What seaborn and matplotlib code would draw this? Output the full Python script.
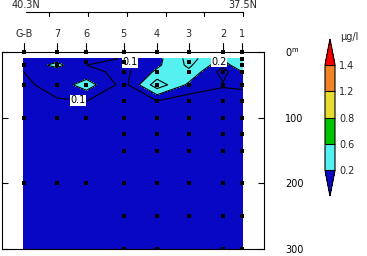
import numpy as np
import pandas as pd
import matplotlib
matplotlib.use("Agg")
import matplotlib.pyplot as plt
from matplotlib.colors import ListedColormap
import seaborn as sns

# ---------------- data ----------------
station_names = ["G-B", "7", "6", "5", "4", "3", "2", "1"]
station_lat = [40.33, 39.90, 39.52, 39.04, 38.61, 38.20, 37.76, 37.51]
grid_depth = [10, 20, 30, 50, 75, 100, 125, 150, 200, 250, 300]

# concentration (ug/l) at grid_depth for each station
conc_gb = [0.15, 0.13, 0.10, 0.08, 0.06, 0.04, 0.04, 0.03, 0.03, 0.03, 0.03]
conc_7 = [0.16, 0.23, 0.15, 0.14, 0.09, 0.05, 0.04, 0.03, 0.03, 0.03, 0.03]
conc_6 = [0.13, 0.10, 0.13, 0.25, 0.10, 0.05, 0.04, 0.03, 0.03, 0.03, 0.03]
conc_5 = [0.095, 0.07, 0.07, 0.06, 0.05, 0.04, 0.04, 0.03, 0.03, 0.03, 0.03]
conc_4 = [0.17, 0.18, 0.22, 0.36, 0.095, 0.05, 0.04, 0.03, 0.03, 0.03, 0.03]
conc_3 = [0.33, 0.32, 0.28, 0.18, 0.04, 0.04, 0.03, 0.03, 0.03, 0.03, 0.03]
conc_2 = [0.22, 0.13, 0.06, 0.11, 0.05, 0.04, 0.03, 0.03, 0.03, 0.03, 0.03]
conc_1 = [0.26, 0.31, 0.20, 0.12, 0.05, 0.04, 0.03, 0.03, 0.03, 0.03, 0.03]

# sampling depths (dots) per station
samp_gb = [20, 50, 100, 200]
samp_7 = [20, 50, 100, 200]
samp_6 = [15, 50, 100, 200]
samp_5 = [15, 30, 50, 75, 100, 125, 150, 200, 250, 300]
samp_4 = [30, 50, 75, 100, 125, 150, 200, 250, 300]
samp_3 = [15, 30, 50, 75, 100, 125, 150, 200, 250]
samp_2 = [30, 50, 75, 100, 125, 150, 200, 250, 300]
samp_1 = [10, 20, 30, 50, 75, 100, 125, 150, 200, 250, 300]

lat_ticks = [40.0, 39.5, 39.0, 38.5, 38.0, 37.5]
lat_end_labels = ["40.3N", "37.5N"]
lat_end_values = [40.3, 37.5]

depth_ticks = [0, 100, 200, 300]
depth_ticklabels = [r"0$^{\rm m}$", "100", "200", "300"]

cbar_levels = [0.2, 0.6, 0.8, 1.2, 1.4]
cbar_labels = ["0.2", "0.6", "0.8", "1.2", "1.4"]
unit_label = "\u03bcg/l"

# ---------------- style ----------------
sns.set_style("white")
plt.rcParams["font.family"] = ["DejaVu Sans"]

fig = plt.figure(figsize=(3.67, 2.56), dpi=100)
W, H = 367.0, 256.0
ax = fig.add_axes([2 / W, 1 - 249 / H, 262 / W, 197 / H])

conc = np.array([conc_gb, conc_7, conc_6, conc_5, conc_4, conc_3, conc_2, conc_1]).T
LAT, DEP = np.meshgrid(station_lat, grid_depth)

blue = "#0808C4"
cmap = ListedColormap(["#55F0F0", "#00C400", "#E6DC30", "#F08228"])
cmap.set_under(blue)
cmap.set_over("#F50000")

cf = ax.contourf(LAT, DEP, conc, levels=cbar_levels, cmap=cmap, extend="both")
cs1 = ax.contour(LAT, DEP, conc, levels=[0.1], colors="black", linewidths=0.8)
cs2 = ax.contour(LAT, DEP, conc, levels=[0.2], colors="black", linewidths=0.8)
cs3 = ax.contour(LAT, DEP, conc, levels=[0.3], colors="black", linewidths=0.8)

labs = []
labs += cs1.clabel(manual=[(39.63, 78), (38.95, 14)], fmt="%.1f",
                   fontsize=7, inline=True, inline_spacing=2)
labs += cs2.clabel(manual=[(37.82, 11)], fmt="%.1f",
                   fontsize=7, inline=True, inline_spacing=2)
for t in labs:
    t.set_rotation(0)
    t.set_color("black")
    t.set_bbox(dict(facecolor="white", edgecolor="none", pad=0.3))

# sampling dots
rows = []
for lat, samp in zip(station_lat, [samp_gb, samp_7, samp_6, samp_5, samp_4,
                                   samp_3, samp_2, samp_1]):
    for d in samp:
        rows.append({"lat": lat, "depth": d})
dots = pd.DataFrame(rows)
sns.scatterplot(data=dots, x="lat", y="depth", marker="s", s=5, color="black",
                linewidth=0, ax=ax, zorder=5)

ax.set_xlim(40.61, 37.23)
ax.set_ylim(300, 0)
ax.set_xlabel("")
ax.set_ylabel("")
ax.set_xticks([])
ax.set_yticks(depth_ticks)
ax.set_yticklabels(depth_ticklabels)
ax.tick_params(axis="y", left=True, right=True, labelleft=False, labelright=True,
               direction="in", length=4, width=0.8, pad=15, labelsize=7,
               colors="black")
for sp in ax.spines.values():
    sp.set_color("black")
    sp.set_linewidth(0.8)

# station markers / labels on top of frame
ax.scatter(station_lat, [0] * len(station_lat), marker="s", s=5, color="black",
           linewidths=0, clip_on=False, zorder=6)
for lat, name in zip(station_lat, station_names):
    ax.plot([lat, lat], [-14, 0], color="black", lw=0.8, clip_on=False)
    ax.text(lat, -27, name, ha="center", va="center", fontsize=7)

# latitude axis
ax.plot([lat_end_values[0], lat_end_values[1]], [-61, -61], color="black",
        lw=0.8, clip_on=False)
for lt in lat_ticks:
    ax.plot([lt, lt], [-61, -55], color="black", lw=0.8, clip_on=False)
for v, s in zip(lat_end_values, lat_end_labels):
    ax.text(v, -71, s, ha="center", va="center", fontsize=7)

# colorbar
cax = fig.add_axes([325 / W, 1 - 196 / H, 10 / W, 157 / H])
cb = fig.colorbar(cf, cax=cax, extendfrac=0.245, drawedges=True,
                  ticks=cbar_levels)
cb.set_ticklabels(cbar_labels)
cb.outline.set_edgecolor("black")
cb.outline.set_linewidth(0.8)
cb.dividers.set_color("black")
cb.dividers.set_linewidth(0.8)
cax.tick_params(length=0, pad=3, labelsize=7)
fig.text(349 / W, 1 - 37 / H, unit_label, ha="center", va="center", fontsize=7)

fig.savefig("out.png", dpi=100)
